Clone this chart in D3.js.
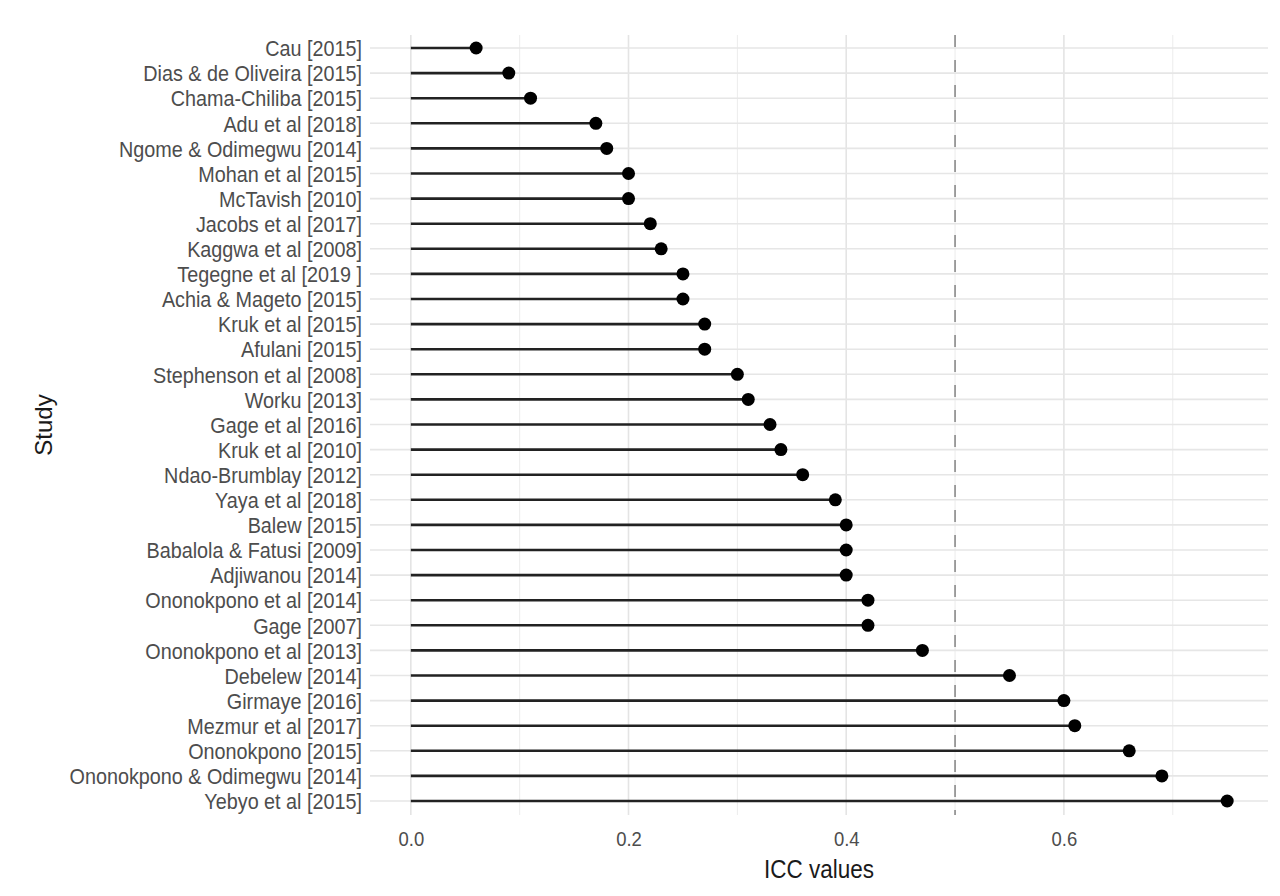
<!DOCTYPE html>
<html><head><meta charset="utf-8">
<script src="https://cdn.jsdelivr.net/npm/d3@7"></script>
<style>body{margin:0;background:#fff}</style>
</head><body>
<svg id="c" width="1280" height="896"></svg>
<script>
const studies = ["Cau [2015]","Dias & de Oliveira [2015]","Chama-Chiliba [2015]","Adu et al [2018]","Ngome & Odimegwu [2014]","Mohan et al [2015]","McTavish [2010]","Jacobs et al [2017]","Kaggwa et al [2008]","Tegegne et al [2019 ]","Achia & Mageto [2015]","Kruk et al [2015]","Afulani [2015]","Stephenson et al [2008]","Worku [2013]","Gage et al [2016]","Kruk et al [2010]","Ndao-Brumblay [2012]","Yaya et al [2018]","Balew [2015]","Babalola & Fatusi [2009]","Adjiwanou [2014]","Ononokpono et al [2014]","Gage [2007]","Ononokpono et al [2013]","Debelew [2014]","Girmaye [2016]","Mezmur et al [2017]","Ononokpono [2015]","Ononokpono & Odimegwu [2014]","Yebyo et al [2015]"];
const iccValues = [0.06,0.09,0.11,0.17,0.18,0.20,0.20,0.22,0.23,0.25,0.25,0.27,0.27,0.30,0.31,0.33,0.34,0.36,0.39,0.40,0.40,0.40,0.42,0.42,0.47,0.55,0.60,0.61,0.66,0.69,0.75];
const xTicks = [0,0.2,0.4,0.6];
const xMinor = [0.1,0.3,0.5,0.7];
const threshold = 0.5;

const svg = d3.select("#c");
const L = 370, R = 1268, T = 35, B = 815;
const x = d3.scaleLinear().domain([-0.0375,0.7875]).range([L,R]);
const y = d3.scalePoint().domain(studies).range([48,801]);
const font = "'Liberation Sans', Arial, sans-serif";

const g = svg.append("g");
g.selectAll(".vmin").data(xMinor).join("line")
  .attr("x1",d=>x(d)).attr("x2",d=>x(d)).attr("y1",T).attr("y2",B)
  .attr("stroke","#ececec").attr("stroke-width",1);
g.selectAll(".vmaj").data(xTicks).join("line")
  .attr("x1",d=>x(d)).attr("x2",d=>x(d)).attr("y1",T).attr("y2",B)
  .attr("stroke","#e4e4e4").attr("stroke-width",1.6);
g.selectAll(".h").data(studies).join("line")
  .attr("x1",L).attr("x2",R).attr("y1",d=>y(d)).attr("y2",d=>y(d))
  .attr("stroke","#e6e6e6").attr("stroke-width",1.6);

g.append("line").attr("x1",x(threshold)).attr("x2",x(threshold)).attr("y1",T).attr("y2",B)
  .attr("stroke","#8a8a8a").attr("stroke-width",1.6).attr("stroke-dasharray","12,13");

g.selectAll(".stem").data(studies).join("line")
  .attr("x1",x(0)).attr("x2",(d,i)=>x(iccValues[i])).attr("y1",d=>y(d)).attr("y2",d=>y(d))
  .attr("stroke","#222").attr("stroke-width",2.6);
g.selectAll(".pt").data(studies).join("circle")
  .attr("cx",(d,i)=>x(iccValues[i])).attr("cy",d=>y(d)).attr("r",6.5).attr("fill","#000");

svg.append("g").attr("transform",`translate(${L-8},0)`)
  .call(d3.axisLeft(y).tickSize(0).tickPadding(0))
  .call(a=>a.select(".domain").remove())
  .selectAll("text").attr("x",0).attr("font-family",font).attr("font-size",22).attr("fill","#4d4d4d")
  .attr("dy","0.35em").attr("transform","scale(0.9,1)");

svg.append("g").attr("transform",`translate(0,${B+8})`)
  .call(d3.axisBottom(x).tickValues(xTicks).tickFormat(d3.format(".1f")).tickSize(0).tickPadding(8))
  .call(a=>a.select(".domain").remove())
  .selectAll("text").attr("font-family",font).attr("font-size",21).attr("fill","#4d4d4d")
  .attr("transform","scale(0.88,1)");

svg.append("text").attr("x",(L+R)/2).attr("y",878).attr("text-anchor","middle")
  .attr("font-family",font).attr("font-size",25).attr("fill","#1a1a1a")
  .attr("transform",`translate(${(L+R)/2*0.1},0) scale(0.9,1)`).text("ICC values");
svg.append("text").attr("transform",`translate(52,${(T+B)/2}) rotate(-90)`).attr("text-anchor","middle")
  .attr("font-family",font).attr("font-size",24).attr("fill","#1a1a1a").text("Study");
</script>
</body></html>
